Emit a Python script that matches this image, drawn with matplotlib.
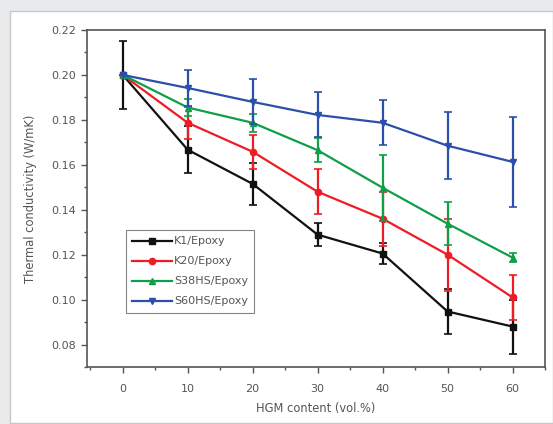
import matplotlib
matplotlib.use("Agg")
import matplotlib.pyplot as plt
from matplotlib.patches import Rectangle
from matplotlib.ticker import MultipleLocator

W, H, DPI = 553, 424, 100

x = [0, 10, 20, 30, 40, 50, 60]
k1 = [0.200, 0.1667, 0.1515, 0.1289, 0.1205, 0.0947, 0.0880]
k1_err = [0.015, 0.0105, 0.0095, 0.005, 0.0045, 0.010, 0.012]
k20 = [0.200, 0.1787, 0.1658, 0.1480, 0.1360, 0.1200, 0.1010]
k20_err = [0.0, 0.007, 0.0075, 0.010, 0.012, 0.016, 0.010]
s38 = [0.200, 0.1855, 0.1787, 0.1665, 0.1498, 0.1338, 0.1187]
s38_err = [0.0, 0.004, 0.004, 0.0053, 0.0146, 0.0095, 0.002]
s60 = [0.200, 0.1942, 0.1880, 0.1822, 0.1787, 0.1685, 0.1613]
s60_err = [0.0, 0.008, 0.010, 0.010, 0.010, 0.015, 0.020]

labels = ["K1/Epoxy", "K20/Epoxy", "S38HS/Epoxy", "S60HS/Epoxy"]
colors = ["#111111", "#ee1c24", "#0e9f48", "#2b4faa"]
markers = ["s", "o", "^", "v"]
yticks = [0.08, 0.10, 0.12, 0.14, 0.16, 0.18, 0.20, 0.22]
ytick_labels = ["0.08", "0.10", "0.12", "0.14", "0.16", "0.18", "0.20", "0.22"]

fig = plt.figure(figsize=(W / DPI, H / DPI), dpi=DPI)
fig.patch.set_facecolor("#e9eaec")
fig.patches.append(Rectangle((10 / W, 1 - 423 / H), (W - 10) / W, (423 - 11) / H,
                             transform=fig.transFigure, facecolor="white",
                             edgecolor="#c8c8c8", linewidth=1.0, zorder=-10))

ax = fig.add_axes([87 / W, 1 - 367 / H, (545 - 87) / W, (367 - 30) / H])
ax.set_zorder(1)
ax.set_facecolor("white")

series = [(k1, k1_err), (k20, k20_err), (s38, s38_err), (s60, s60_err)]
for (y, e), lab, c, m in zip(series, labels, colors, markers):
    ax.errorbar(x, y, yerr=e, fmt="none", ecolor=c, elinewidth=1.6,
                capsize=3, capthick=1.2)
    ax.plot(x, y, color=c, marker=m, markersize=4.5, linewidth=1.6, label=lab)

ax.set_xlim(-5.5, 65)
ax.set_ylim(0.07, 0.22)
ax.xaxis.set_major_locator(MultipleLocator(10))
ax.xaxis.set_minor_locator(MultipleLocator(5))
ax.yaxis.set_minor_locator(MultipleLocator(0.01))
ax.set_yticks(yticks)
ax.set_yticklabels(ytick_labels)
ax.tick_params(axis="both", which="major", labelsize=8, length=4, width=1,
               colors="#555555", labelcolor="#555555")
ax.tick_params(axis="x", which="major", pad=8)
ax.tick_params(axis="y", which="major", pad=4)
ax.tick_params(axis="both", which="minor", length=2, width=1, colors="#555555")
for s in ax.spines.values():
    s.set_color("#555555")
    s.set_linewidth(1.2)

ax.set_xlabel("HGM content (vol.%)", fontsize=8.3, color="#555555", labelpad=6)
ax.set_ylabel("Thermal conductivity (W/mK)", fontsize=8.3, color="#555555", labelpad=10)

leg = ax.legend(loc="lower left", bbox_to_anchor=(0.072, 0.145), fontsize=8,
                frameon=True, fancybox=False, edgecolor="#666666",
                handlelength=3.6, borderpad=0.55, labelspacing=0.9,
                handletextpad=0.2)
leg.get_frame().set_linewidth(0.8)
for t in leg.get_texts():
    t.set_color("#555555")

fig.savefig("out.png", dpi=DPI, facecolor=fig.get_facecolor())
